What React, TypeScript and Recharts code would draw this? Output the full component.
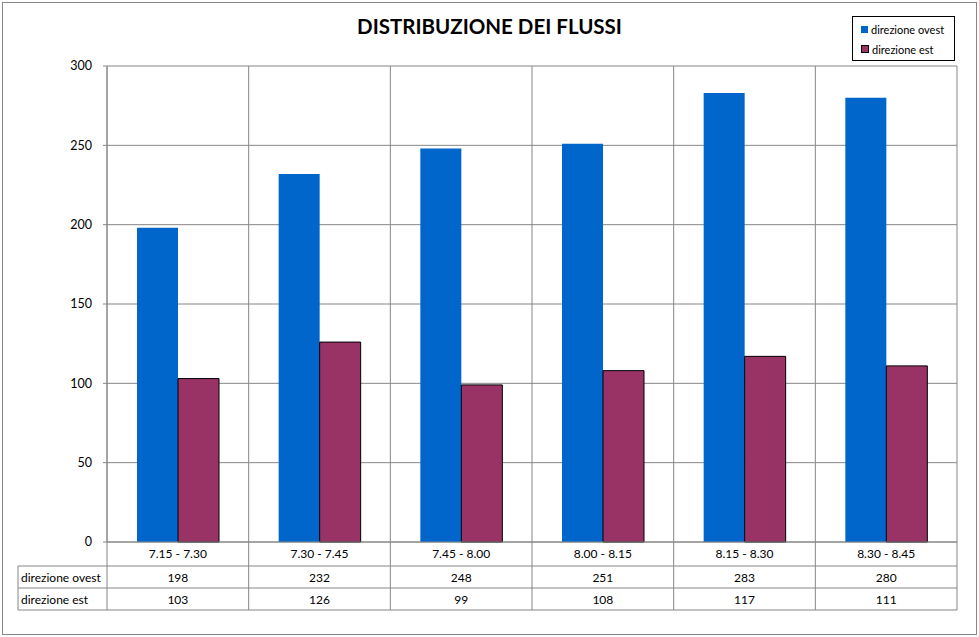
import React from 'react';
import { BarChart, Bar, XAxis, YAxis, CartesianGrid } from 'recharts';

const fasce = ['7.15 - 7.30', '7.30 - 7.45', '7.45 - 8.00', '8.00 - 8.15', '8.15 - 8.30', '8.30 - 8.45'];
const ovest = [198, 232, 248, 251, 283, 280];
const est = [103, 126, 99, 108, 117, 111];
const yTicks = [0, 50, 100, 150, 200, 250, 300];

const data = fasce.map((fascia, i) => ({ fascia, ovest: ovest[i], est: est[i] }));

const W = 979;
const H = 637;
const PLOT_LEFT = 107;
const PLOT_RIGHT = 957;
const PLOT_TOP = 66;
const PLOT_BOTTOM = 542;
const CELL = (PLOT_RIGHT - PLOT_LEFT) / fasce.length;
const ROW1 = 566;
const ROW2 = 588;
const ROW3 = 610;
const TABLE_LEFT = 18;
const GRID = '#868686';
const FONT = 'Lato, "Open Sans", sans-serif';

// tick che disegna anche la tabella dati sotto l'asse
const TableTick = (props: any) => {
  const { x, payload } = props;
  const i = payload.index;
  const l = x - CELL / 2;
  const r = x + CELL / 2;
  const txt = { fontFamily: FONT, fontSize: 12, fill: '#000' };
  return (
    <g>
      <line x1={l} x2={r} y1={ROW1} y2={ROW1} stroke={GRID} />
      <line x1={l} x2={r} y1={ROW2} y2={ROW2} stroke={GRID} />
      <line x1={l} x2={r} y1={ROW3} y2={ROW3} stroke={GRID} />
      <line x1={r} x2={r} y1={PLOT_BOTTOM} y2={ROW3} stroke={GRID} />
      {i === 0 && (
        <g>
          <line x1={l} x2={l} y1={PLOT_BOTTOM} y2={ROW3} stroke={GRID} />
          <line x1={TABLE_LEFT} x2={l} y1={ROW1} y2={ROW1} stroke={GRID} />
          <line x1={TABLE_LEFT} x2={l} y1={ROW2} y2={ROW2} stroke={GRID} />
          <line x1={TABLE_LEFT} x2={l} y1={ROW3} y2={ROW3} stroke={GRID} />
          <line x1={TABLE_LEFT} x2={TABLE_LEFT} y1={ROW1} y2={ROW3} stroke={GRID} />
          <text x={TABLE_LEFT + 3} y={ROW1 + 16} {...txt}>direzione ovest</text>
          <text x={TABLE_LEFT + 3} y={ROW2 + 16} {...txt}>direzione est</text>
        </g>
      )}
      <text x={x} y={PLOT_BOTTOM + 16} textAnchor="middle" {...txt}>{payload.value}</text>
      <text x={x} y={ROW1 + 16} textAnchor="middle" {...txt}>{ovest[i]}</text>
      <text x={x} y={ROW2 + 16} textAnchor="middle" {...txt}>{est[i]}</text>
    </g>
  );
};

const LegendBox = () => (
  <div
    style={{
      position: 'absolute',
      left: 852,
      top: 16,
      border: '1px solid #000',
      width: 103,
      height: 45,
      boxSizing: 'border-box',
      fontFamily: FONT,
      fontSize: 11,
      padding: '2px 0 0 8px',
      background: '#fff',
    }}
  >
    <div style={{ display: 'flex', alignItems: 'center', height: 20 }}>
      <span style={{ width: 7, height: 7, background: '#0066CC', marginRight: 3 }} />
      direzione ovest
    </div>
    <div style={{ display: 'flex', alignItems: 'center', height: 20 }}>
      <span style={{ width: 6, height: 6, background: '#993366', border: '1px solid #000', marginRight: 3 }} />
      direzione est
    </div>
  </div>
);

export default function App() {
  return (
    <div style={{ position: 'absolute', left: 0, top: 0, width: W, height: H, background: '#fff' }}>
      <div
        style={{
          position: 'absolute',
          left: 2,
          top: 2,
          width: 975,
          height: 633,
          border: '1px solid #868686',
          boxSizing: 'border-box',
        }}
      />
      <div
        style={{
          position: 'absolute',
          left: 0,
          top: 14,
          width: W,
          textAlign: 'center',
          fontFamily: FONT,
          fontWeight: 'bold',
          fontSize: 20.5,
        }}
      >
        DISTRIBUZIONE DEI FLUSSI
      </div>
      <BarChart
        width={W}
        height={H}
        data={data}
        margin={{ top: PLOT_TOP, right: W - PLOT_RIGHT, bottom: 0, left: PLOT_LEFT - 60 }}
        barGap={0}
        barSize={41}
        style={{ position: 'absolute', left: 0, top: 0 }}
      >
        <CartesianGrid
          stroke={GRID}
          verticalCoordinatesGenerator={({ offset }: any) =>
            fasce.map((_, i) => offset.left + (i * offset.width) / fasce.length).concat(offset.left + offset.width)
          }
        />
        <XAxis
          dataKey="fascia"
          height={H - PLOT_BOTTOM}
          stroke={GRID}
          tickLine={false}
          interval={0}
          tick={<TableTick />}
        />
        <YAxis
          width={60}
          domain={[0, 300]}
          ticks={yTicks}
          stroke={GRID}
          tickSize={4}
          tickMargin={11}
          tick={{ fill: '#000', fontFamily: FONT, fontSize: 12.5 }}
        />
        <Bar dataKey="ovest" name="direzione ovest" fill="#0066CC" isAnimationActive={false} />
        <Bar dataKey="est" name="direzione est" fill="#993366" stroke="#000" strokeWidth={1} isAnimationActive={false} />
      </BarChart>
      <LegendBox />
    </div>
  );
}
